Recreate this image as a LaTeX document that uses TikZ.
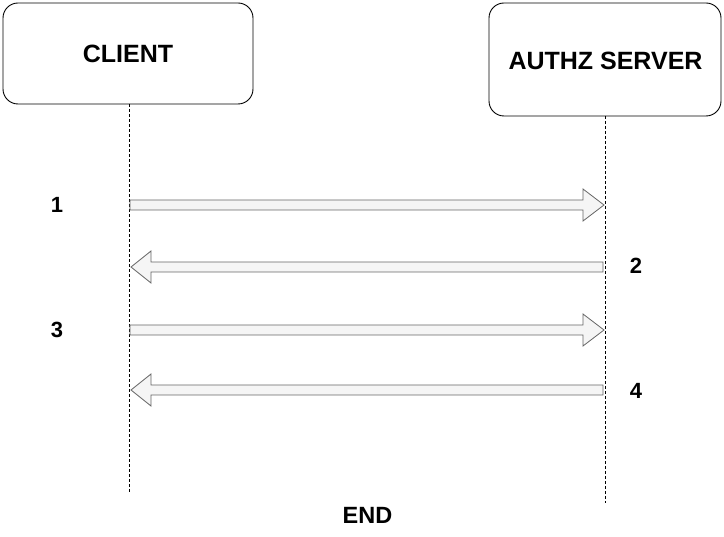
\documentclass[tikz,border=0pt]{standalone}
\usepackage{fontspec}
\setmainfont{Liberation Sans}
\usetikzlibrary{calc}
\definecolor{arrfill}{HTML}{F5F5F5}
\definecolor{arrline}{HTML}{666666}
\begin{document}
\begin{tikzpicture}[x=1pt,y=-1pt,
  actor/.style={draw=black,line width=0.9pt,rounded corners=15pt,fill=white},
  lifeline/.style={draw=black,dashed,dash pattern=on 3pt off 2pt,line width=0.7pt},
  biglabel/.style={font=\bfseries\fontsize{25}{29}\selectfont,inner sep=0pt},
  endlabel/.style={font=\bfseries\fontsize{23.5}{28}\selectfont,inner sep=0pt},
  numlabel/.style={font=\bfseries\fontsize{22}{26}\selectfont,inner sep=0pt},
  fatarrow/.style={fill=arrfill,draw=arrline,line width=0.8pt,line join=miter}]
\useasboundingbox (0,0) rectangle (724,537);
% actors
\draw[actor] (3,3) rectangle (253,104);
\node[biglabel] (client) at (128,54) {CLIENT};
\draw[actor] (489,3) rectangle (721,116);
\node[biglabel] (server) at (605.5,61) {AUTHZ SERVER};
% lifeline coordinates
\coordinate (ctop) at (129,104);
\coordinate (cbot) at (129,493);
\coordinate (stop) at (605,116);
\coordinate (sbot) at (605,503);
\draw[lifeline] (ctop) -- (cbot);
\draw[lifeline] (stop) -- (sbot);
% message arrows: right
\foreach \y/\n in {205/a1,330/a3}{
  \coordinate (\n s) at (130,\y);
  \coordinate (\n e) at (604,\y);
  \draw[fatarrow] ($(\n s)+(0,-5)$) -- ($(\n e)+(-21,-5)$) -- ($(\n e)+(-21,-16)$) -- (\n e)
     -- ($(\n e)+(-21,16)$) -- ($(\n e)+(-21,5)$) -- ($(\n s)+(0,5)$) -- cycle;
}
% message arrows: left
\foreach \y/\n in {267/a2,390/a4}{
  \coordinate (\n s) at (603,\y);
  \coordinate (\n e) at (131,\y);
  \draw[fatarrow] ($(\n s)+(0,-5)$) -- ($(\n e)+(20,-5)$) -- ($(\n e)+(20,-16)$) -- (\n e)
     -- ($(\n e)+(20,16)$) -- ($(\n e)+(20,5)$) -- ($(\n s)+(0,5)$) -- cycle;
}
% labels
\node[numlabel] (n1) at (57,205) {1};
\node[numlabel] (n2) at (636,266) {2};
\node[numlabel] (n3) at (57,330) {3};
\node[numlabel] (n4) at (636,391) {4};
\node[endlabel] (end) at (367.5,515.5) {END};
\end{tikzpicture}
\end{document}
